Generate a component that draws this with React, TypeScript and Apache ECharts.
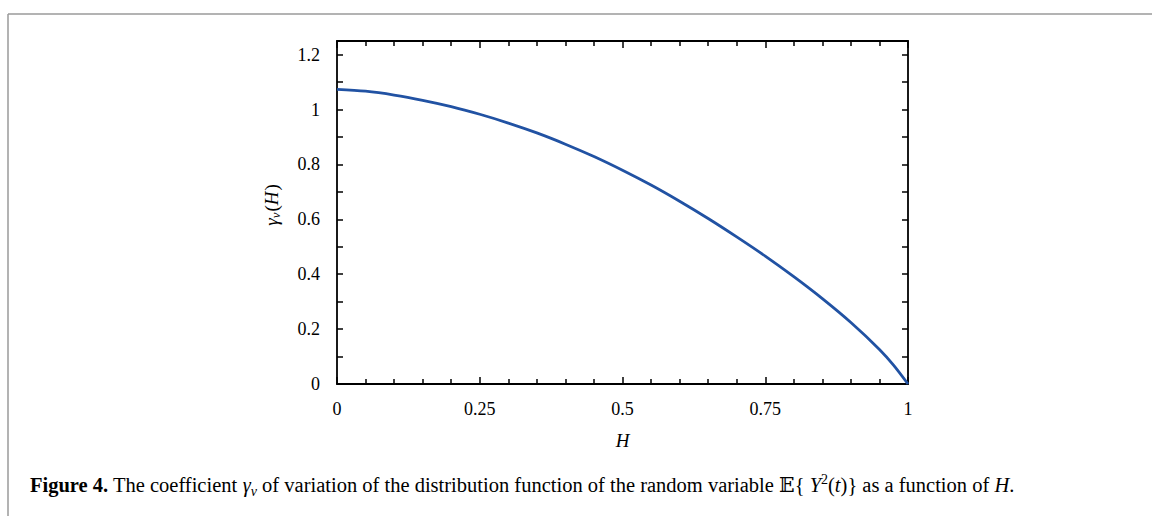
import React, { useEffect, useRef } from "react";
import * as echarts from "echarts";

const hValues = [0, 0.05, 0.1, 0.15, 0.2, 0.25, 0.3, 0.35, 0.4, 0.45, 0.5, 0.55, 0.6, 0.65, 0.7, 0.75, 0.8, 0.85, 0.9, 0.95, 0.975, 1];
const gammaValues = [1.074, 1.067, 1.053, 1.034, 1.011, 0.983, 0.951, 0.915, 0.874, 0.829, 0.779, 0.725, 0.666, 0.603, 0.536, 0.466, 0.391, 0.311, 0.224, 0.126, 0.068, 0];
const xTickLabels = ["0", "0.25", "0.5", "0.75", "1"];
const yTickLabels = ["0", "0.2", "0.4", "0.6", "0.8", "1", "1.2"];

const FONT = "'Liberation Serif', 'DejaVu Serif', serif";
const CAP = 20.5;

function pickLabel(labels: string[], v: number) {
  const hit = labels.find((l) => Math.abs(Number(l) - v) < 1e-6);
  return hit === undefined ? "" : hit;
}

export default function App() {
  const ref = useRef<HTMLDivElement>(null);
  useEffect(() => {
    document.body.style.margin = "0";
    if (!ref.current) return;
    const chart = echarts.init(ref.current, undefined, { renderer: "svg" });
    const axisLine = { show: true, onZero: false, lineStyle: { color: "#000", width: 1.8 } };
    const tickStyle = { color: "#000", width: 1.5 };
    const xCommon: any = {
      type: "value",
      min: 0,
      max: 1,
      interval: 0.25,
      axisLine,
      axisTick: { show: true, inside: true, length: 7, lineStyle: tickStyle },
      minorTick: { show: true, splitNumber: 5, length: 5, lineStyle: tickStyle },
      splitLine: { show: false },
      minorSplitLine: { show: false },
    };
    const yCommon: any = {
      type: "value",
      min: 0,
      max: 1.25,
      interval: 0.1,
      axisLine,
      axisTick: { show: true, inside: true, length: 6, lineStyle: tickStyle },
      splitLine: { show: false },
    };
    const capBase = { fontFamily: FONT, fontSize: CAP, fill: "#000", lineHeight: 26, verticalAlign: "middle" };
    chart.setOption({
      animation: false,
      grid: { left: 337, right: 244, top: 41, bottom: 132, containLabel: false },
      xAxis: [
        {
          ...xCommon,
          position: "bottom",
          name: "H",
          nameLocation: "middle",
          nameGap: 47,
          nameTextStyle: { fontFamily: FONT, fontSize: 19, fontStyle: "italic", color: "#000" },
          axisLabel: {
            show: true,
            margin: 16,
            fontFamily: FONT,
            fontSize: 18,
            color: "#000",
            formatter: (v: number) => pickLabel(xTickLabels, v),
          },
        },
        { ...xCommon, position: "top", axisLabel: { show: false } },
      ],
      yAxis: [
        {
          ...yCommon,
          position: "left",
          axisLabel: {
            show: true,
            margin: 17,
            fontFamily: FONT,
            fontSize: 18,
            color: "#000",
            formatter: (v: number) => pickLabel(yTickLabels, v),
          },
        },
        { ...yCommon, position: "right", axisLabel: { show: false } },
      ],
      series: [
        {
          type: "line",
          data: hValues.map((h, i) => [h, gammaValues[i]]),
          smooth: 0.3,
          showSymbol: false,
          lineStyle: { color: "#2152a3", width: 2.8 },
          xAxisIndex: 0,
          yAxisIndex: 0,
        },
      ],
      graphic: [
        { type: "line", shape: { x1: 8, y1: 14, x2: 1152, y2: 14 }, style: { stroke: "#9a9a9a", lineWidth: 1.5 } },
        { type: "line", shape: { x1: 8, y1: 14, x2: 8, y2: 516 }, style: { stroke: "#9a9a9a", lineWidth: 1.5 } },
        {
          type: "text",
          x: 271,
          y: 205,
          rotation: Math.PI / 2,
          style: {
            text: "{i|γ}{s|v}{n|(}{i|H}{n|)}",
            align: "center",
            verticalAlign: "middle",
            rich: {
              i: { fontFamily: FONT, fontSize: 19, fontStyle: "italic", fill: "#000", lineHeight: 22, verticalAlign: "middle" },
              n: { fontFamily: FONT, fontSize: 19, fill: "#000", lineHeight: 22, verticalAlign: "middle", padding: [0, 0, 0, 1] },
              s: { fontFamily: FONT, fontSize: 13, fontStyle: "italic", fill: "#000", lineHeight: 22, verticalAlign: "bottom" },
            },
          },
        },
        {
          type: "text",
          x: 30,
          y: 485,
          style: {
            text:
              "{b|Figure 4.}{n| The coefficient }{i|γ}{s|ν}{n| of variation of the distribution function of the random variable 𝔼{ }{i|Y}{p|2}{n|(}{i|t}{n|)}}{n| as a function of }{i|H}{n|.}",
            align: "left",
            verticalAlign: "middle",
            fontFamily: FONT,
            fontSize: CAP,
            fill: "#000",
            rich: {
              b: { ...capBase, fontWeight: "bold" },
              n: { ...capBase },
              i: { ...capBase, fontStyle: "italic" },
              s: { ...capBase, fontSize: 14, fontStyle: "italic", verticalAlign: "bottom" },
              p: { ...capBase, fontSize: 14, verticalAlign: "top" },
            },
          },
        },
      ],
    });
    return () => chart.dispose();
  }, []);
  return <div ref={ref} style={{ width: 1152, height: 516 }} />;
}
